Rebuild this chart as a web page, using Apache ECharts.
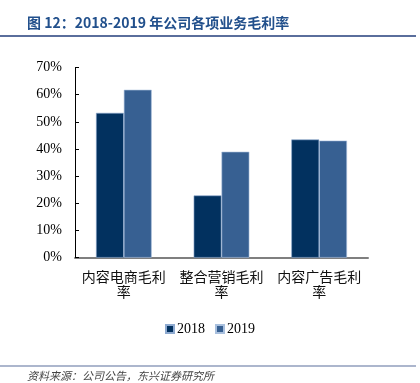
<!DOCTYPE html>
<html>
<head>
<meta charset="utf-8">
<script src="https://cdn.jsdelivr.net/npm/echarts@6/dist/echarts.min.js"></script>
<style>
  html, body { margin: 0; padding: 0; background: #fff; }
  #chart { width: 420px; height: 383px; }
</style>
</head>
<body>
<div id="chart"></div>
<script>
// 数据
var categories = ['内容电商毛利率', '整合营销毛利率', '内容广告毛利率'];
var seriesNames = ['2018', '2019'];
var values2018 = [53.3, 22.9, 43.5];
var values2019 = [61.8, 39.0, 43.1];
var yTicks = [0, 10, 20, 30, 40, 50, 60, 70];

var serif = '"Liberation Serif", "Times New Roman", serif';
var cjk = '"Noto Sans CJK SC", sans-serif';

var chart = echarts.init(document.getElementById('chart'));

var option = {
  animation: false,
  backgroundColor: '#fff',
  grid: { left: 75, right: 52, top: 67.5, bottom: 125.3 },
  legend: {
    data: seriesNames,
    bottom: 42,
    left: 'center',
    itemWidth: 8,
    itemHeight: 8,
    itemGap: 10,
    icon: 'rect',
    textStyle: { fontFamily: serif, fontSize: 14, color: '#000', padding: [0, 0, 0, -2] }
  },
  xAxis: {
    type: 'category',
    data: categories,
    axisLine: { lineStyle: { color: '#7f7f7f', width: 2 } },
    axisTick: { show: false },
    axisLabel: {
      interval: 0,
      margin: 11,
      fontFamily: cjk,
      fontSize: 14,
      lineHeight: 15,
      color: '#111',
      formatter: function (v) { return v.slice(0, 6) + '\n' + v.slice(6); }
    }
  },
  yAxis: {
    type: 'value',
    min: yTicks[0],
    max: yTicks[yTicks.length - 1],
    interval: 10,
    splitLine: { show: false },
    axisLine: { show: true, lineStyle: { color: '#000', width: 1 } },
    axisTick: { show: true, inside: true, length: 4, lineStyle: { color: '#000' } },
    axisLabel: {
      margin: 13,
      fontFamily: serif,
      fontSize: 14,
      color: '#000',
      formatter: '{value}%'
    }
  },
  series: [
    {
      name: seriesNames[0],
      type: 'bar',
      data: values2018,
      barGap: '0%',
      barCategoryGap: '43%',
      itemStyle: { color: '#02315f', borderColor: '#8eaad0', borderWidth: 0.6 }
    },
    {
      name: seriesNames[1],
      type: 'bar',
      data: values2019,
      itemStyle: { color: '#376092', borderColor: '#a9c0de', borderWidth: 0.6 }
    }
  ],
  graphic: [
    {
      type: 'text', left: 27, top: 16,
      style: {
        text: '图 12：2018-2019 年公司各项业务毛利率',
        font: 'bold 14px ' + cjk,
        fill: '#22508c'
      }
    },
    {
      type: 'rect', shape: { x: 0, y: 35, width: 416, height: 2 },
      style: { fill: '#5a6e9c' }
    },
    {
      type: 'rect', shape: { x: 0, y: 365.5, width: 416, height: 1 },
      style: { fill: '#5a6e9c' }
    },
    {
      type: 'text', left: 27, top: 370,
      style: {
        text: '资料来源：公司公告，东兴证券研究所',
        font: 'italic 11px ' + cjk,
        fill: '#444'
      }
    }
  ]
};

chart.setOption(option);
</script>
</body>
</html>
